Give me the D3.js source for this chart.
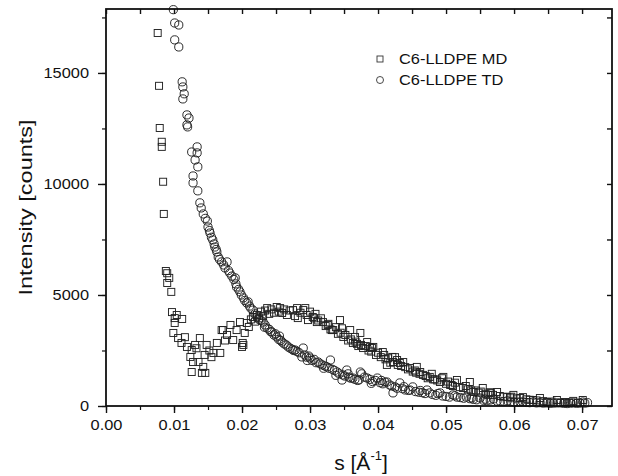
<!DOCTYPE html>
<html>
<head>
<meta charset="utf-8">
<script src="https://cdn.jsdelivr.net/npm/d3@7"></script>
<style>
  body { margin: 0; background: #fff; }
  svg { display: block; font-family: "Liberation Sans", Arial, sans-serif; }
</style>
</head>
<body>
<div id="chart"></div>
<script>
// SAXS intensity vs s for C6-LLDPE, MD and TD directions

// Ticks
const xTicks = [0.00, 0.01, 0.02, 0.03, 0.04, 0.05, 0.06, 0.07];
const yTicks = [0, 5000, 10000, 15000];

// C6-LLDPE MD (squares)
const mdS = [
  0.0076, 0.0078, 0.0079, 0.0082, 0.0082, 0.0084, 0.0085, 0.0088, 0.0090, 0.0093,
  0.0090, 0.0096, 0.0097, 0.0104, 0.0101, 0.0112, 0.0101, 0.0099, 0.0106, 0.0111,
  0.0119, 0.0126, 0.0124, 0.0128, 0.0126, 0.0141, 0.0143, 0.0136, 0.0138, 0.0131,
  0.0148, 0.0145, 0.0158, 0.0152, 0.0168, 0.0163, 0.0170, 0.0178, 0.0175, 0.0187,
  0.0192, 0.0183, 0.0197, 0.0202, 0.0146, 0.0172, 0.0200, 0.0116, 0.0133, 0.0155,
  0.0201, 0.0204, 0.0207, 0.0210, 0.0213, 0.0216, 0.0219, 0.0222, 0.0225, 0.0228,
  0.0231, 0.0234, 0.0237, 0.0240, 0.0243, 0.0247, 0.0251, 0.0254, 0.0256, 0.0259,
  0.0262, 0.0266, 0.0270, 0.0275, 0.0278, 0.0281, 0.0282, 0.0286,
  0.0290, 0.0293, 0.0295, 0.0297, 0.0300, 0.0304, 0.0308, 0.0310, 0.0312, 0.0316,
  0.0319, 0.0323, 0.0327, 0.0330, 0.0332, 0.0334, 0.0338, 0.0341, 0.0344, 0.0345,
  0.0349, 0.0352, 0.0356, 0.0359, 0.0360, 0.0363, 0.0366, 0.0367, 0.0371, 0.0374,
  0.0375, 0.0378, 0.0382, 0.0384, 0.0386, 0.0390, 0.0391, 0.0393, 0.0397, 0.0400,
  0.0404, 0.0407, 0.0411, 0.0413, 0.0415, 0.0418, 0.0421, 0.0422, 0.0425, 0.0428,
  0.0429, 0.0432, 0.0437, 0.0440, 0.0444, 0.0447, 0.0451, 0.0454, 0.0457, 0.0461,
  0.0462, 0.0466, 0.0470, 0.0473, 0.0476, 0.0479, 0.0483, 0.0487, 0.0491, 0.0494,
  0.0496, 0.0500, 0.0503, 0.0506, 0.0510, 0.0513, 0.0516, 0.0520, 0.0525, 0.0529,
  0.0532, 0.0535, 0.0540, 0.0544, 0.0548, 0.0551, 0.0554, 0.0558, 0.0562, 0.0566,
  0.0569, 0.0575, 0.0579, 0.0584, 0.0590, 0.0594, 0.0599, 0.0604, 0.0609, 0.0613,
  0.0618, 0.0623, 0.0628, 0.0633, 0.0638, 0.0643, 0.0649, 0.0655, 0.0663, 0.0668,
  0.0675, 0.0681, 0.0687, 0.0694, 0.0701,
  0.0306, 0.0326, 0.0347, 0.0369, 0.0388, 0.0409, 0.0434, 0.0456, 0.0481, 0.0508,
  0.0537, 0.0564, 0.0596
];
const mdI = [
  16800, 14420, 12520, 11900, 11670, 10100, 8650, 6080, 5980, 5770,
  5540, 5140, 4230, 4100, 3960, 3920, 3740, 3290, 3060, 2840,
  2660, 2520, 2210, 1980, 1530, 1490, 1760, 1980, 3060, 2750,
  2750, 2300, 2390, 2500, 2390, 2840, 3420, 3200, 2950, 2970,
  3420, 3650, 3780, 2750, 1490, 3420, 2660, 3100, 2600, 2200,
  2840, 3290, 3740, 3560, 3900, 4010, 3800, 4100, 3950, 4250,
  4050, 4300, 4410, 4150, 4350, 4200, 4460, 4250, 4410, 4190,
  4350, 4100, 4300, 4320, 4050, 4410, 3960, 4200,
  4320, 4410, 4100, 3870, 4250, 4010, 4150, 3780, 3850, 3950,
  3780, 3600, 3700, 3450, 3420, 3420, 3550, 3250, 3870, 3300,
  3110, 3200, 2950, 3420, 3000, 2840, 3110, 2900, 2700, 3290,
  2750, 2610, 2700, 2880, 2500, 2450, 2610, 2660, 2300, 2400,
  2200, 2430, 2100, 1850, 2150, 1950, 2210, 1980, 2200, 2070,
  1850, 1940, 1980, 1750, 1650, 1710, 1550, 1600, 1760, 1450,
  1530, 1400, 1350, 1250, 1310, 1450, 1200, 1150, 1080, 1250,
  1310, 1000, 1100, 950, 900, 1050, 1170, 850, 810, 900,
  750, 1080, 630, 700, 600, 650, 810, 550, 500, 580,
  500, 630, 450, 420, 400, 380, 500, 340, 360, 400,
  300, 280, 270, 250, 360, 220, 180, 200, 270, 140,
  180, 150, 230, 150, 270,
  3950, 3650, 3500, 2800, 2650, 2300, 1800, 1500, 1200, 950,
  700, 620, 420
];

// C6-LLDPE TD (circles)
const tdS = [
  0.0099, 0.0101, 0.0107, 0.0101, 0.0107, 0.0112, 0.0113, 0.0115, 0.0113, 0.0119,
  0.0122, 0.0119, 0.0120, 0.0134, 0.0126, 0.0134, 0.0131, 0.0135, 0.0128, 0.0128,
  0.0135, 0.0138, 0.0140, 0.0143, 0.0146, 0.0149, 0.0150, 0.0152, 0.0153, 0.0155,
  0.0157, 0.0159, 0.0160, 0.0162, 0.0163, 0.0165, 0.0167, 0.0170, 0.0173, 0.0178,
  0.0175, 0.0180, 0.0182, 0.0185, 0.0188, 0.0190, 0.0191, 0.0192, 0.0195, 0.0197,
  0.0199, 0.0202, 0.0204, 0.0207, 0.0209, 0.0211, 0.0213, 0.0216, 0.0219, 0.0222,
  0.0225, 0.0228, 0.0231, 0.0234, 0.0237, 0.0240, 0.0242, 0.0244, 0.0247, 0.0249,
  0.0251, 0.0254, 0.0257, 0.0259, 0.0262, 0.0265, 0.0268, 0.0271, 0.0274, 0.0278,
  0.0281, 0.0284, 0.0288, 0.0290, 0.0292, 0.0295, 0.0298, 0.0300, 0.0303, 0.0306,
  0.0309, 0.0312, 0.0315, 0.0318, 0.0322, 0.0325, 0.0328, 0.0330, 0.0333, 0.0336,
  0.0340, 0.0343, 0.0347, 0.0348, 0.0351, 0.0354, 0.0357, 0.0360, 0.0363, 0.0366,
  0.0370, 0.0374, 0.0376, 0.0380, 0.0384, 0.0388, 0.0392, 0.0396, 0.0399, 0.0403,
  0.0407, 0.0410, 0.0413, 0.0417, 0.0420, 0.0422, 0.0425, 0.0428, 0.0432, 0.0436,
  0.0440, 0.0445, 0.0447, 0.0451, 0.0455, 0.0460, 0.0465, 0.0469, 0.0472, 0.0476,
  0.0480, 0.0485, 0.0491, 0.0495, 0.0500, 0.0505, 0.0510, 0.0516, 0.0521, 0.0526,
  0.0530, 0.0535, 0.0540, 0.0545, 0.0550, 0.0555, 0.0560, 0.0565, 0.0570, 0.0575,
  0.0580, 0.0585, 0.0590, 0.0595, 0.0600, 0.0605, 0.0609, 0.0613, 0.0618, 0.0623,
  0.0628, 0.0633, 0.0638, 0.0643, 0.0648, 0.0653, 0.0658, 0.0663, 0.0668, 0.0673,
  0.0678, 0.0683, 0.0687, 0.0692, 0.0697, 0.0701, 0.0704, 0.0708,
  0.0233, 0.0255, 0.0276, 0.0296, 0.0320, 0.0338, 0.0356, 0.0372, 0.0390, 0.0405,
  0.0438, 0.0462, 0.0488, 0.0513, 0.0538, 0.0558
];
const tdI = [
  17850, 17250, 17160, 16490, 16170, 14600, 14370, 14060, 13830, 13110,
  12970, 12660, 12570, 11670, 11440, 11400, 11080, 10770, 10360, 10050,
  9690, 9150, 8920, 8650, 8450, 8330, 8060, 7900, 7790, 7600,
  7480, 7300, 7160, 7050, 6940, 6710, 6600, 6490, 6350, 6490,
  6220, 6100, 5990, 5850, 5700, 5770, 5500, 5360, 5250, 5140,
  5000, 4870, 4750, 4640, 4690, 4500, 4400, 4320, 4150, 4010,
  3900, 3850, 3780, 3650, 3510, 3450, 3350, 3330, 3200, 3250,
  3110, 3000, 2950, 2880, 2800, 2750, 2660, 2600, 2550, 2520,
  2450, 2400, 2210, 2610, 2300, 2200, 2250, 2160, 2050, 2100,
  1950, 1980, 1900, 1850, 1800, 1760, 1700, 2070, 1650, 1600,
  1530, 1450, 1170, 1400, 1350, 1620, 1300, 1250, 1260, 1200,
  1150, 1530, 1450, 1300, 1260, 1200, 1100, 1150, 1260, 1050,
  1000, 1080, 1080, 950, 900, 590, 860, 800, 1040, 780,
  720, 700, 720, 860, 650, 620, 600, 560, 720, 590,
  520, 480, 590, 450, 430, 400, 500, 400, 380, 350,
  400, 330, 300, 280, 360, 260, 240, 270, 320, 220,
  210, 200, 230, 190, 180, 170, 180, 180, 160, 150,
  180, 140, 150, 130, 140, 120, 130, 140, 140, 120,
  110, 130, 140, 120, 130, 180, 130, 150,
  3550, 3150, 2500, 2050, 1700, 1380, 1450, 1180, 1020, 1150,
  870, 700, 560, 460, 370, 310
];

const width = 618;
const height = 476;
const margin = { top: 9, right: 6, bottom: 70, left: 106 };
const plotW = width - margin.left - margin.right;
const plotH = height - margin.top - margin.bottom;

// the scanned figure is a little wider than tall, so text is stretched sideways
const stretch = 1.17;
function widen(sel) {
  sel.each(function() {
    const len = this.getComputedTextLength();
    d3.select(this).attr("textLength", len * stretch).attr("lengthAdjust", "spacingAndGlyphs");
  });
}

const svg = d3.select("#chart")
  .append("svg")
  .attr("width", width)
  .attr("height", height);

const x = d3.scaleLinear()
  .domain([0, 0.0744])
  .range([margin.left, margin.left + plotW]);

const y = d3.scaleLinear()
  .domain([0, 17880])
  .range([margin.top + plotH, margin.top]);

const x0 = margin.left, x1 = margin.left + plotW;
const y0 = margin.top + plotH, y1 = margin.top;

// Markers
const mdData = mdS.map((s, i) => [s, mdI[i]]);
const tdData = tdS.map((s, i) => [s, tdI[i]]);

const sq = 7;
svg.append("g")
  .selectAll("rect")
  .data(mdData)
  .join("rect")
  .attr("x", d => x(d[0]) - sq / 2)
  .attr("y", d => y(d[1]) - sq / 2)
  .attr("width", sq)
  .attr("height", sq)
  .attr("fill", "none")
  .attr("stroke", "#222")
  .attr("stroke-width", 0.95);

svg.append("g")
  .selectAll("circle")
  .data(tdData)
  .join("circle")
  .attr("cx", d => x(d[0]))
  .attr("cy", d => y(d[1]))
  .attr("r", 4.1)
  .attr("fill", "none")
  .attr("stroke", "#222")
  .attr("stroke-width", 0.95);

// Axes
const minorX = d3.range(0, 0.0744, 0.005);
const minorY = d3.range(0, 17880, 2500);

const bottom = svg.append("g")
  .attr("transform", `translate(0,${y0})`)
  .call(d3.axisBottom(x).tickValues(xTicks).tickFormat(d3.format(".2f")).tickSize(7).tickPadding(7))
  .call(g => g.select(".domain").remove());
bottom.selectAll("text").style("font-size", "14px").attr("fill", "#111").call(widen);
bottom.selectAll("line").attr("stroke", "#111").attr("stroke-width", 1.4);
svg.append("g")
  .attr("transform", `translate(0,${y0})`)
  .call(d3.axisBottom(x).tickValues(minorX).tickFormat("").tickSize(4))
  .call(g => g.select(".domain").remove())
  .selectAll("line").attr("stroke", "#111").attr("stroke-width", 1.2);

const left = svg.append("g")
  .attr("transform", `translate(${x0},0)`)
  .call(d3.axisLeft(y).tickValues(yTicks).tickFormat(d3.format("d")).tickSize(8).tickPadding(9))
  .call(g => g.select(".domain").remove());
left.selectAll("text").style("font-size", "14px").attr("fill", "#111").call(widen);
left.selectAll("line").attr("stroke", "#111").attr("stroke-width", 1.4);
svg.append("g")
  .attr("transform", `translate(${x0},0)`)
  .call(d3.axisLeft(y).tickValues(minorY).tickFormat("").tickSize(4))
  .call(g => g.select(".domain").remove())
  .selectAll("line").attr("stroke", "#111").attr("stroke-width", 1.2);

// mirrored top and right ticks pointing inward
svg.append("g")
  .attr("transform", `translate(0,${y1})`)
  .call(d3.axisBottom(x).tickValues(minorX).tickFormat("").tickSize(5))
  .call(g => g.select(".domain").remove())
  .selectAll("line").attr("stroke", "#111").attr("stroke-width", 1.4);
svg.append("g")
  .attr("transform", `translate(${x1},0)`)
  .call(d3.axisLeft(y).tickValues(minorY).tickFormat("").tickSize(5))
  .call(g => g.select(".domain").remove())
  .selectAll("line").attr("stroke", "#111").attr("stroke-width", 1.4);

// Frame
svg.append("rect")
  .attr("x", x0)
  .attr("y", y1)
  .attr("width", x1 - x0)
  .attr("height", y0 - y1)
  .attr("fill", "none")
  .attr("stroke", "#111")
  .attr("stroke-width", 1.8);

// Axis titles
svg.append("text")
  .attr("transform", `translate(32,${(y0 + y1) / 2}) rotate(-90)`)
  .attr("text-anchor", "middle")
  .style("font-size", "18px")
  .attr("fill", "#111")
  .attr("textLength", 176)
  .attr("lengthAdjust", "spacingAndGlyphs")
  .text("Intensity [counts]");

const xt = svg.append("text")
  .attr("x", 361)
  .attr("y", 470)
  .attr("text-anchor", "middle")
  .style("font-size", "21px")
  .attr("fill", "#111");
xt.append("tspan").text("s [Å");
xt.append("tspan").attr("dy", -10).style("font-size", "13px").text("-1");
xt.append("tspan").attr("dy", 10).text("]");

// Legend
const legend = svg.append("g").attr("transform", "translate(380,59)");
const names = ["C6-LLDPE MD", "C6-LLDPE TD"];
names.forEach((name, i) => {
  const row = legend.append("g").attr("transform", `translate(0,${i * 21})`);
  if (i === 0) {
    row.append("rect")
      .attr("x", -3).attr("y", -3).attr("width", 6).attr("height", 6)
      .attr("fill", "none").attr("stroke", "#333").attr("stroke-width", 0.9);
  } else {
    row.append("circle")
      .attr("r", 3.5)
      .attr("fill", "none").attr("stroke", "#333").attr("stroke-width", 0.9);
  }
  row.append("text")
    .attr("x", 19)
    .attr("y", 5)
    .style("font-size", "14px")
    .attr("fill", "#111")
    .text(name)
    .call(widen);
});
</script>
</body>
</html>
